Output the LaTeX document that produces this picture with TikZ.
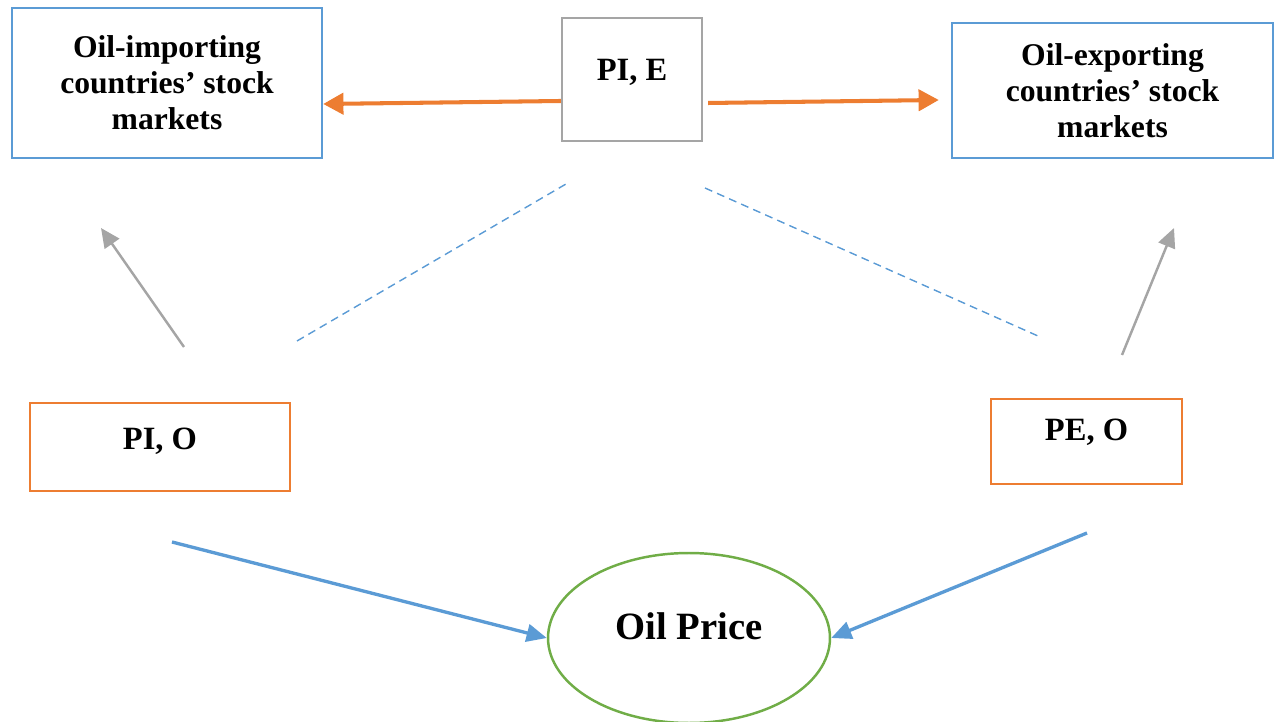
\documentclass[tikz,border=0pt]{standalone}
\usepackage{fontspec}
\setmainfont{Liberation Serif}
\usetikzlibrary{arrows.meta,shapes.geometric}
\definecolor{boxblue}{HTML}{5B9BD5}
\definecolor{boxorange}{HTML}{ED7D31}
\definecolor{boxgray}{HTML}{A5A5A5}
\definecolor{boxgreen}{HTML}{70AD47}
\tikzset{
  market/.style={draw=boxblue,line width=1.4pt,align=center,
    font=\fontsize{18}{20.5}\selectfont\bfseries},
  pair/.style={draw=#1,line width=1.4pt,inner sep=0pt,
    font=\fontsize{18.5}{22}\selectfont\bfseries},
  oarrow/.style={draw=boxorange,line width=2.3pt,-{Triangle[length=11.5pt,width=12pt]}},
  garrow/.style={draw=boxgray,line width=1.4pt,-{Triangle[length=11pt,width=10pt]}},
  barrow/.style={draw=boxblue,line width=1.9pt,-{Triangle[length=11.5pt,width=10pt]}},
  dline/.style={draw=boxblue,line width=0.8pt,dash pattern=on 4.5pt off 3pt}
}
\begin{document}
\begin{tikzpicture}[x=0.02cm,y=-0.02cm]
\useasboundingbox (0,0) rectangle (1278,722);

\node[market,minimum width=6.2cm,minimum height=3cm] (imp) at (167,83) {Oil-importing\\countries' stock\\markets};
\node[market,minimum width=6.42cm,minimum height=2.7cm] (exp) at (1112.5,90.5) {Oil-exporting\\countries' stock\\markets};
\node[pair=boxgray,minimum width=2.8cm,text height=1.26cm,text depth=1.2cm] (pie) at (632,79.5) {PI, E};
\node[pair=boxorange,minimum width=5.2cm,text height=0.93cm,text depth=0.83cm] (pio) at (160,447) {PI, O};
\node[pair=boxorange,minimum width=3.82cm,text height=0.84cm,text depth=0.86cm] (peo) at (1086.5,441.5) {PE, O};
\node[ellipse,draw=boxgreen,line width=1.4pt,minimum width=5.64cm,minimum height=3.4cm,
  font=\fontsize{22}{26}\selectfont\bfseries,text height=0.52cm,text depth=0.44cm] (oil) at (689,638) {Oil Price};

\coordinate (gis) at (184,347);
\coordinate (gie) at (101,228);
\coordinate (ges) at (1122,355);
\coordinate (gee) at (1174,228);
\coordinate (dis) at (297,341);
\coordinate (die) at (566,184);
\coordinate (des) at (705,188);
\coordinate (dee) at (1038,336);
\coordinate (bis) at (172,542);
\coordinate (bes) at (1087,533);

\draw[oarrow] ([yshift=-0.43cm]pie.west) -- ([yshift=-0.42cm]imp.east);
\draw[oarrow] ([xshift=0.1cm,yshift=-0.47cm]pie.east) -- ([xshift=-0.24cm,yshift=-0.19cm]exp.west);
\draw[garrow] (gis) -- (gie);
\draw[garrow] (ges) -- (gee);
\draw[dline] (dis) -- (die);
\draw[dline] (des) -- (dee);
\draw[barrow] (bis) -- (oil.west);
\draw[barrow] (bes) -- (oil.east);
\end{tikzpicture}
\end{document}
